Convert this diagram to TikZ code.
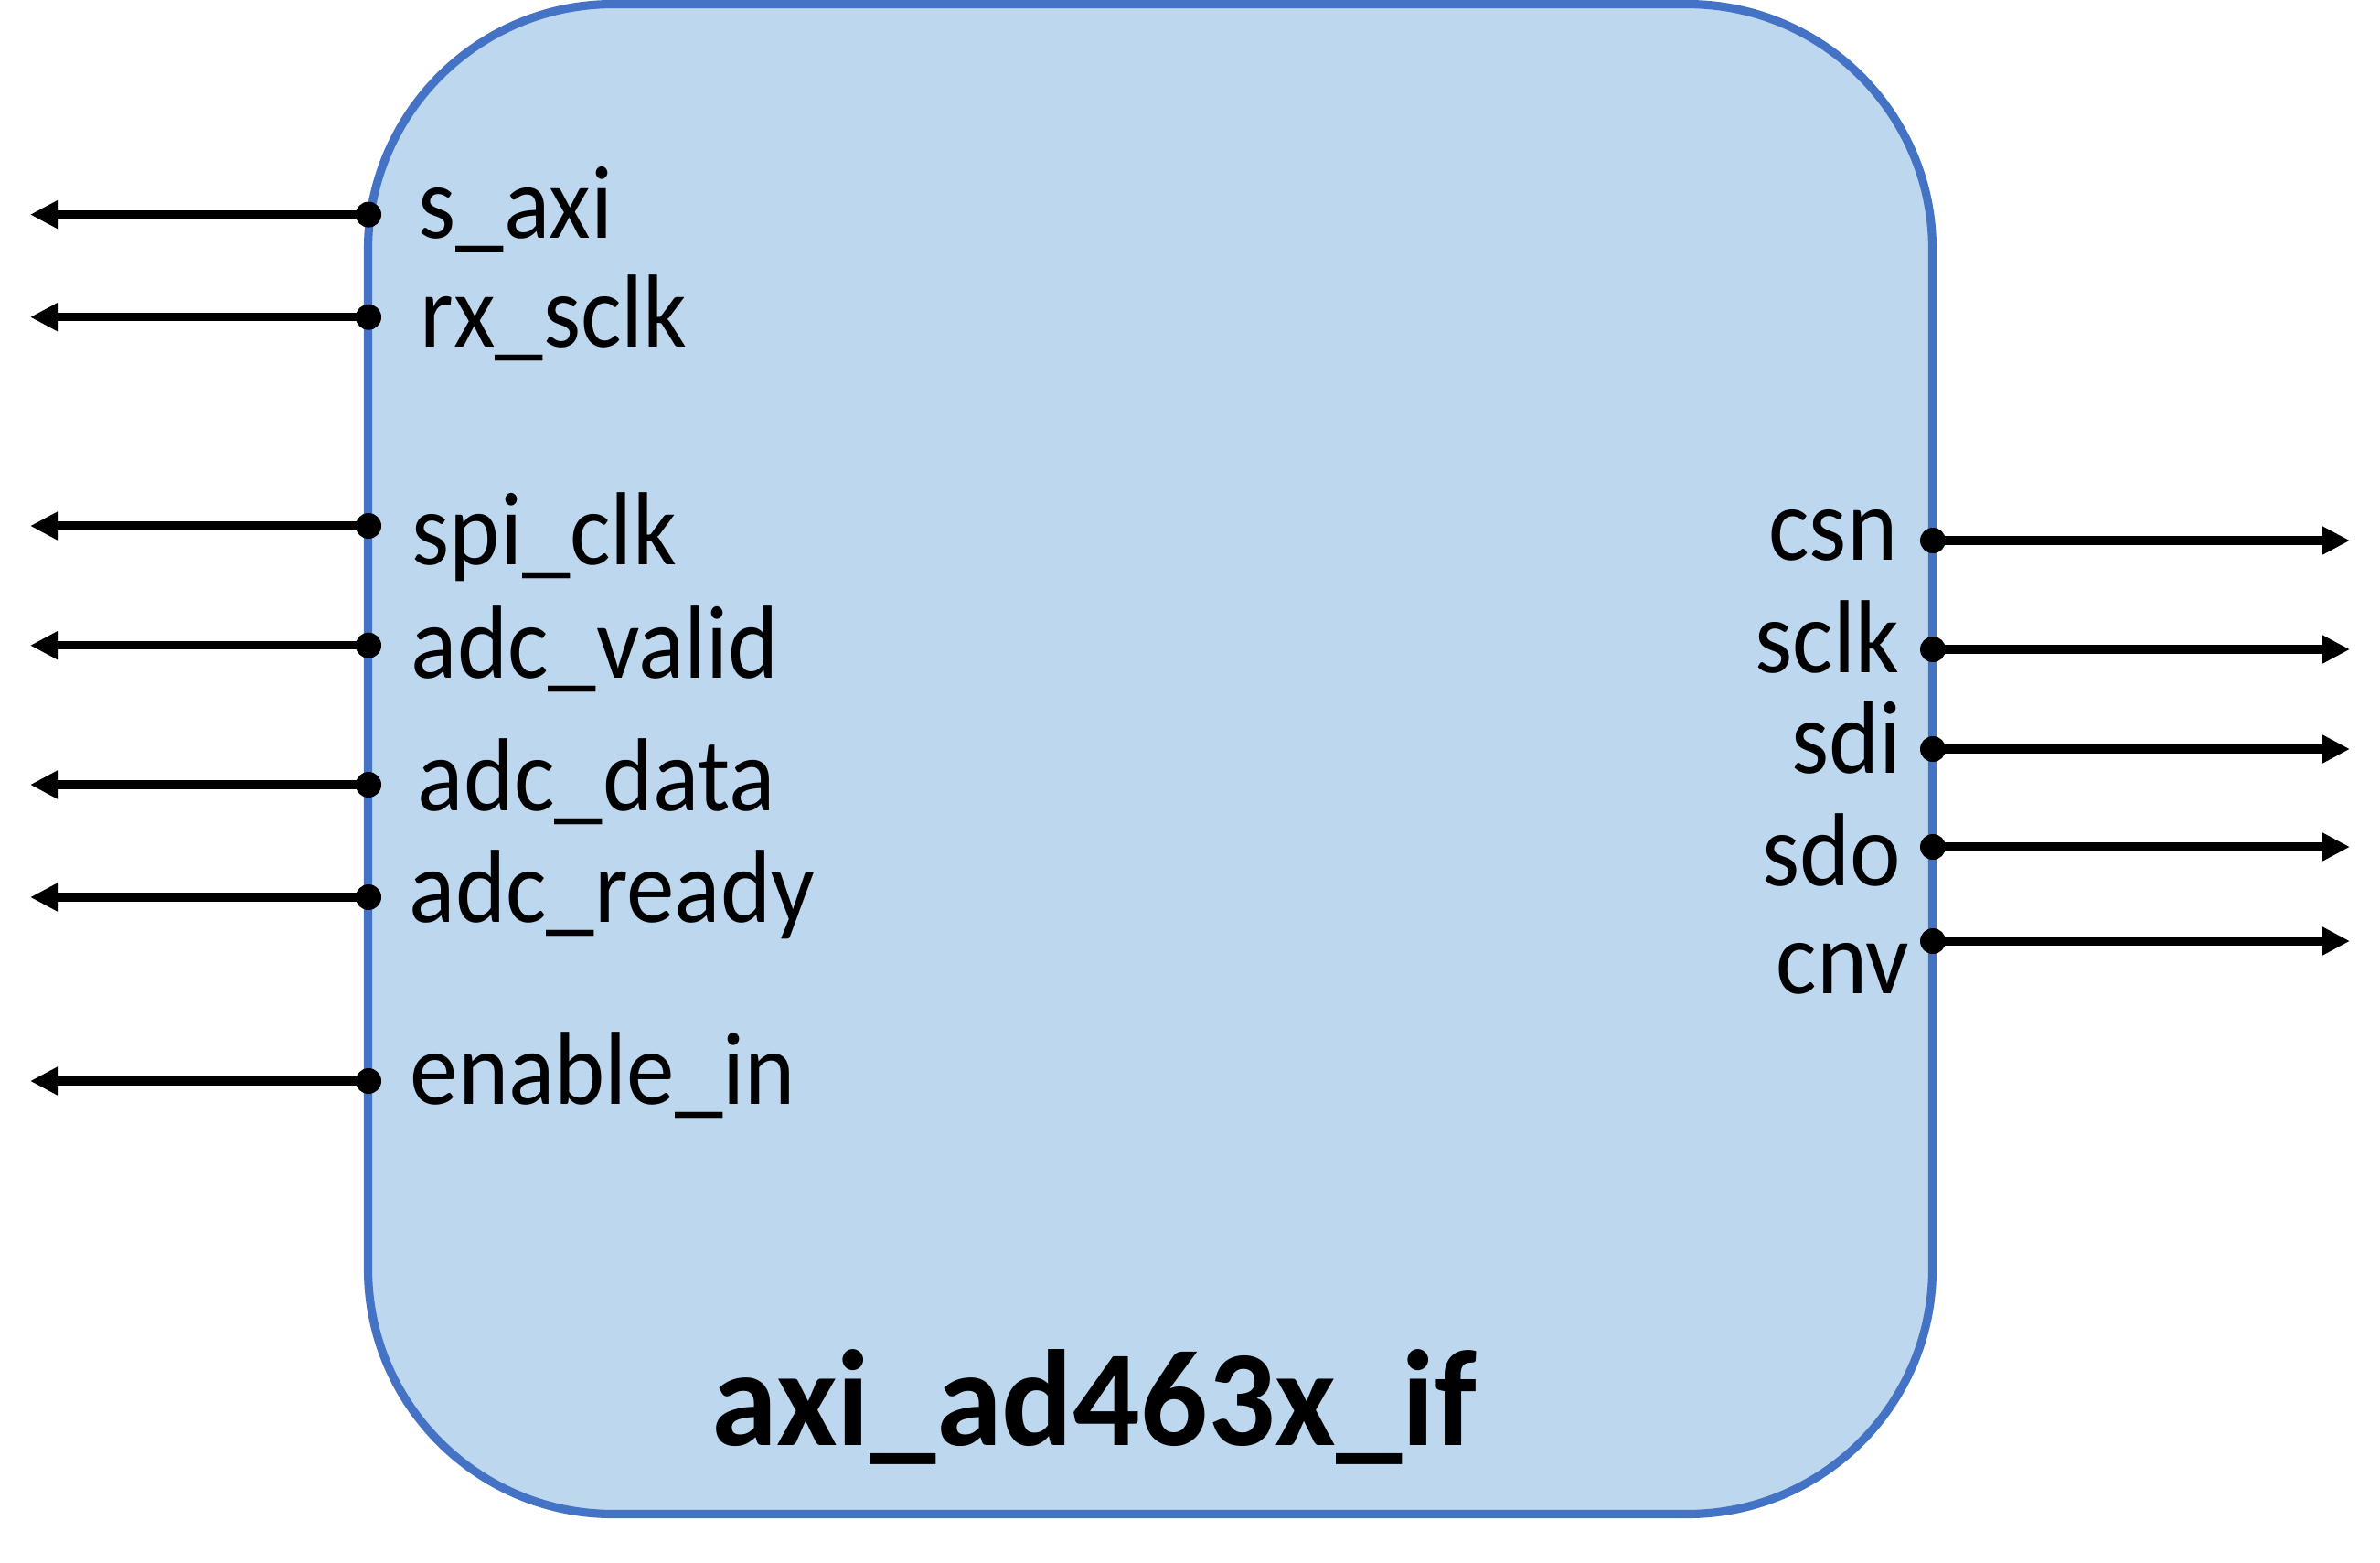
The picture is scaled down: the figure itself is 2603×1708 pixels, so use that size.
\documentclass[tikz,border=0pt]{standalone}
\usepackage{fontspec}
\setmainfont{Carlito}
\usetikzlibrary{arrows.meta}
\definecolor{boxfill}{HTML}{BDD7EE}
\definecolor{boxline}{HTML}{4472C4}
\newcommand{\vstretch}[1]{\scalebox{1}[1.08]{#1}}
\tikzset{
  x=0.01cm, y=-0.01cm,
  ipbox/.style={draw=boxline, fill=boxfill, line width=2.6pt, rounded corners=2.68cm,
    minimum width=17.10cm, minimum height=16.50cm, inner sep=0pt},
  portdot/.style={circle, fill=black, inner sep=0pt, minimum size=0.28cm},
  sig/.style={line width=2.7pt, -{Triangle[length=0.30cm, width=0.29cm]}},
  lbl/.style={inner sep=0pt, font=\fontsize{29.9pt}{36pt}\selectfont},
  ttl/.style={inner sep=0pt, font=\fontsize{41.3pt}{48pt}\selectfont\bfseries},
}
\begin{document}
\begin{tikzpicture}
\useasboundingbox (0,0) rectangle (2603,1708);
\node[ipbox] (box) at (1258,830) {};
\node[ttl, anchor=base] (title) at (1197,1580) {\scalebox{1}[1.03]{axi\_ad463x\_if}};

% left ports
\foreach \n/\y/\tx/\by/\t in {
  saxi/234.6/457/260/s\_axi,
  rxsclk/346.7/459/379/rx\_sclk,
  spiclk/575/450/617/spi\_clk,
  adcvalid/705.7/449/741.6/adc\_valid,
  adcdata/858/456/886.6/adc\_data,
  adcready/981/447/1008/adc\_ready,
  enablein/1182/448/1207/enable\_in}{
  \node[portdot] (d-\n) at (403,\y) {};
  \coordinate (e-\n) at (33,\y);
  \draw[sig] (d-\n.center) -- (e-\n);
  \node[lbl, anchor=base west] (l-\n) at (\tx,\by) {\vstretch{\t}};
}

% right ports
\foreach \n/\y/\tx/\by/\t in {
  csn/591/2076/612.8/csn,
  sclk/710/2078/735.5/sclk,
  sdi/819/2080.5/845/sdi,
  sdo/926/2079.6/968.5/sdo,
  cnv/1029/2089/1086.6/cnv}{
  \node[portdot] (d-\n) at (2114,\y) {};
  \coordinate (e-\n) at (2570,\y);
  \draw[sig] (d-\n.center) -- (e-\n);
  \node[lbl, anchor=base east] (l-\n) at (\tx,\by) {\vstretch{\t}};
}
\end{tikzpicture}
\end{document}
